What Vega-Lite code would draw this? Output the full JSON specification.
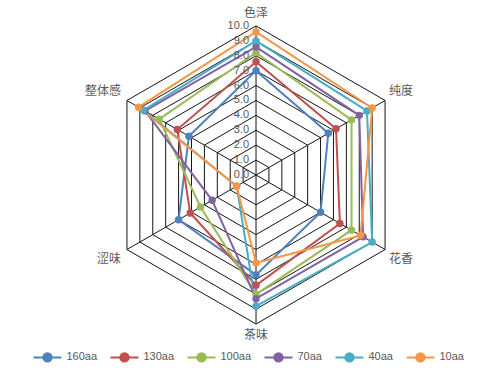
{
  "$schema": "https://vega.github.io/schema/vega-lite/v6.json",
  "width": 480,
  "height": 378,
  "padding": 0,
  "autosize": {"type": "none"},
  "background": "white",
  "config": {"view": {"stroke": null}, "font": "Noto Sans CJK SC"},
  "datasets": {
    "scores": [
      {"s": "160aa", "axis": "色泽", "k": 0, "v": 7.0},
      {"s": "160aa", "axis": "纯度", "k": 1, "v": 5.6},
      {"s": "160aa", "axis": "花香", "k": 2, "v": 5.0},
      {"s": "160aa", "axis": "茶味", "k": 3, "v": 6.7},
      {"s": "160aa", "axis": "涩味", "k": 4, "v": 6.0},
      {"s": "160aa", "axis": "整体感", "k": 5, "v": 5.2},
      {"s": "130aa", "axis": "色泽", "k": 0, "v": 7.6},
      {"s": "130aa", "axis": "纯度", "k": 1, "v": 6.2},
      {"s": "130aa", "axis": "花香", "k": 2, "v": 6.5},
      {"s": "130aa", "axis": "茶味", "k": 3, "v": 7.4},
      {"s": "130aa", "axis": "涩味", "k": 4, "v": 5.1},
      {"s": "130aa", "axis": "整体感", "k": 5, "v": 6.1},
      {"s": "100aa", "axis": "色泽", "k": 0, "v": 8.2},
      {"s": "100aa", "axis": "纯度", "k": 1, "v": 7.4},
      {"s": "100aa", "axis": "花香", "k": 2, "v": 7.4},
      {"s": "100aa", "axis": "茶味", "k": 3, "v": 8.0},
      {"s": "100aa", "axis": "涩味", "k": 4, "v": 4.3},
      {"s": "100aa", "axis": "整体感", "k": 5, "v": 7.5},
      {"s": "70aa", "axis": "色泽", "k": 0, "v": 8.6},
      {"s": "70aa", "axis": "纯度", "k": 1, "v": 8.0},
      {"s": "70aa", "axis": "花香", "k": 2, "v": 8.3},
      {"s": "70aa", "axis": "茶味", "k": 3, "v": 8.3},
      {"s": "70aa", "axis": "涩味", "k": 4, "v": 3.4},
      {"s": "70aa", "axis": "整体感", "k": 5, "v": 8.6},
      {"s": "40aa", "axis": "色泽", "k": 0, "v": 9.0},
      {"s": "40aa", "axis": "纯度", "k": 1, "v": 8.6},
      {"s": "40aa", "axis": "花香", "k": 2, "v": 9.0},
      {"s": "40aa", "axis": "茶味", "k": 3, "v": 8.8},
      {"s": "40aa", "axis": "涩味", "k": 4, "v": 1.5},
      {"s": "40aa", "axis": "整体感", "k": 5, "v": 8.7},
      {"s": "10aa", "axis": "色泽", "k": 0, "v": 9.6},
      {"s": "10aa", "axis": "纯度", "k": 1, "v": 9.0},
      {"s": "10aa", "axis": "花香", "k": 2, "v": 8.1},
      {"s": "10aa", "axis": "茶味", "k": 3, "v": 5.9},
      {"s": "10aa", "axis": "涩味", "k": 4, "v": 1.5},
      {"s": "10aa", "axis": "整体感", "k": 5, "v": 9.1}
    ],
    "rings": [
      {"level": 1, "k": [0, 1, 2, 3, 4, 5]},
      {"level": 2, "k": [0, 1, 2, 3, 4, 5]},
      {"level": 3, "k": [0, 1, 2, 3, 4, 5]},
      {"level": 4, "k": [0, 1, 2, 3, 4, 5]},
      {"level": 5, "k": [0, 1, 2, 3, 4, 5]},
      {"level": 6, "k": [0, 1, 2, 3, 4, 5]},
      {"level": 7, "k": [0, 1, 2, 3, 4, 5]},
      {"level": 8, "k": [0, 1, 2, 3, 4, 5]},
      {"level": 9, "k": [0, 1, 2, 3, 4, 5]},
      {"level": 10, "k": [0, 1, 2, 3, 4, 5]}
    ],
    "axes": [
      {"k": 0, "name": "色泽", "r": 10},
      {"k": 1, "name": "纯度", "r": 10},
      {"k": 2, "name": "花香", "r": 10},
      {"k": 3, "name": "茶味", "r": 10},
      {"k": 4, "name": "涩味", "r": 10},
      {"k": 5, "name": "整体感", "r": 10}
    ],
    "ticks": [
      {"level": 0}, {"level": 1}, {"level": 2}, {"level": 3}, {"level": 4}, {"level": 5},
      {"level": 6}, {"level": 7}, {"level": 8}, {"level": 9}, {"level": 10}
    ]
  },
  "layer": [
    {
      "data": {"name": "rings"},
      "transform": [
        {"flatten": ["k"]},
        {"calculate": "datum.level*sin(datum.k*PI/3)", "as": "x"},
        {"calculate": "datum.level*cos(datum.k*PI/3)", "as": "y"}
      ],
      "mark": {"type": "line", "interpolate": "linear-closed", "stroke": "#141414", "strokeWidth": 1},
      "encoding": {
        "x": {"field": "x", "type": "quantitative", "scale": {"domain": [-17.18, 15.03], "nice": false, "zero": false}, "axis": null},
        "y": {"field": "y", "type": "quantitative", "scale": {"domain": [-13.62, 11.74], "nice": false, "zero": false}, "axis": null},
        "detail": {"field": "level", "type": "nominal"},
        "order": {"field": "k", "type": "quantitative"}
      }
    },
    {
      "data": {"name": "axes"},
      "transform": [
        {"calculate": "datum.r*sin(datum.k*PI/3)", "as": "x"},
        {"calculate": "datum.r*cos(datum.k*PI/3)", "as": "y"}
      ],
      "mark": {"type": "rule", "stroke": "#141414", "strokeWidth": 1},
      "encoding": {
        "x": {"field": "x", "type": "quantitative"},
        "y": {"field": "y", "type": "quantitative"},
        "x2": {"datum": 0},
        "y2": {"datum": 0}
      }
    },
    {
      "data": {"name": "scores"},
      "transform": [
        {"calculate": "datum.v*sin(datum.k*PI/3)", "as": "x"},
        {"calculate": "datum.v*cos(datum.k*PI/3)", "as": "y"}
      ],
      "mark": {"type": "line", "interpolate": "linear-closed", "strokeWidth": 2},
      "encoding": {
        "x": {"field": "x", "type": "quantitative"},
        "y": {"field": "y", "type": "quantitative"},
        "order": {"field": "k", "type": "quantitative"},
        "color": {
          "field": "s",
          "type": "nominal",
          "scale": {
            "domain": ["160aa", "130aa", "100aa", "70aa", "40aa", "10aa"],
            "range": ["#4F81BD", "#C0504D", "#9BBB59", "#8064A2", "#4BACC6", "#F79646"]
          },
          "legend": {
            "title": null,
            "orient": "none",
            "direction": "horizontal",
            "legendX": 32.5,
            "legendY": 342,
            "padding": 0,
            "symbolType": "M-1,0L1,0M-0.3,0A0.3,0.3 0 1,0 0.3,0A0.3,0.3 0 1,0 -0.3,0Z",
            "symbolSize": 784,
            "symbolStrokeWidth": 2,
            "labelOffset": 4,
            "columnPadding": 9,
            "labelFontSize": 11,
            "labelColor": "#595959",
            "labelFont": "Liberation Sans"
          }
        }
      }
    },
    {
      "data": {"name": "scores"},
      "transform": [
        {"calculate": "datum.v*sin(datum.k*PI/3)", "as": "x"},
        {"calculate": "datum.v*cos(datum.k*PI/3)", "as": "y"}
      ],
      "mark": {"type": "point", "filled": true, "size": 55, "opacity": 1},
      "encoding": {
        "x": {"field": "x", "type": "quantitative"},
        "y": {"field": "y", "type": "quantitative"},
        "color": {"field": "s", "type": "nominal"}
      }
    },
    {
      "data": {"name": "ticks"},
      "mark": {"type": "text", "align": "right", "baseline": "middle", "dx": -7, "fontSize": 11, "color": "#595959", "font": "Liberation Sans"},
      "encoding": {
        "x": {"datum": 0, "type": "quantitative"},
        "y": {"field": "level", "type": "quantitative"},
        "text": {"field": "level", "type": "quantitative", "format": ".1f"}
      }
    },
    {
      "data": {"name": "axes"},
      "transform": [
        {"filter": "datum.k == 0"},
        {"calculate": "datum.r*sin(datum.k*PI/3)", "as": "x"},
        {"calculate": "datum.r*cos(datum.k*PI/3)", "as": "y"}
      ],
      "mark": {"type": "text", "align": "center", "baseline": "bottom", "dy": -6, "fontSize": 12, "color": "#595959"},
      "encoding": {"x": {"field": "x", "type": "quantitative"}, "y": {"field": "y", "type": "quantitative"}, "text": {"field": "name", "type": "nominal"}}
    },
    {
      "data": {"name": "axes"},
      "transform": [
        {"filter": "datum.k == 3"},
        {"calculate": "datum.r*sin(datum.k*PI/3)", "as": "x"},
        {"calculate": "datum.r*cos(datum.k*PI/3)", "as": "y"}
      ],
      "mark": {"type": "text", "align": "center", "baseline": "top", "dy": 6, "fontSize": 12, "color": "#595959"},
      "encoding": {"x": {"field": "x", "type": "quantitative"}, "y": {"field": "y", "type": "quantitative"}, "text": {"field": "name", "type": "nominal"}}
    },
    {
      "data": {"name": "axes"},
      "transform": [
        {"filter": "datum.k == 1"},
        {"calculate": "datum.r*sin(datum.k*PI/3)", "as": "x"},
        {"calculate": "datum.r*cos(datum.k*PI/3)", "as": "y"}
      ],
      "mark": {"type": "text", "align": "left", "baseline": "bottom", "dx": 4, "dy": -2, "fontSize": 12, "color": "#595959"},
      "encoding": {"x": {"field": "x", "type": "quantitative"}, "y": {"field": "y", "type": "quantitative"}, "text": {"field": "name", "type": "nominal"}}
    },
    {
      "data": {"name": "axes"},
      "transform": [
        {"filter": "datum.k == 2"},
        {"calculate": "datum.r*sin(datum.k*PI/3)", "as": "x"},
        {"calculate": "datum.r*cos(datum.k*PI/3)", "as": "y"}
      ],
      "mark": {"type": "text", "align": "left", "baseline": "top", "dx": 4, "dy": 4, "fontSize": 12, "color": "#595959"},
      "encoding": {"x": {"field": "x", "type": "quantitative"}, "y": {"field": "y", "type": "quantitative"}, "text": {"field": "name", "type": "nominal"}}
    },
    {
      "data": {"name": "axes"},
      "transform": [
        {"filter": "datum.k == 4"},
        {"calculate": "datum.r*sin(datum.k*PI/3)", "as": "x"},
        {"calculate": "datum.r*cos(datum.k*PI/3)", "as": "y"}
      ],
      "mark": {"type": "text", "align": "right", "baseline": "top", "dx": -6, "dy": 4, "fontSize": 12, "color": "#595959"},
      "encoding": {"x": {"field": "x", "type": "quantitative"}, "y": {"field": "y", "type": "quantitative"}, "text": {"field": "name", "type": "nominal"}}
    },
    {
      "data": {"name": "axes"},
      "transform": [
        {"filter": "datum.k == 5"},
        {"calculate": "datum.r*sin(datum.k*PI/3)", "as": "x"},
        {"calculate": "datum.r*cos(datum.k*PI/3)", "as": "y"}
      ],
      "mark": {"type": "text", "align": "right", "baseline": "bottom", "dx": -6, "dy": -2, "fontSize": 12, "color": "#595959"},
      "encoding": {"x": {"field": "x", "type": "quantitative"}, "y": {"field": "y", "type": "quantitative"}, "text": {"field": "name", "type": "nominal"}}
    }
  ]
}
